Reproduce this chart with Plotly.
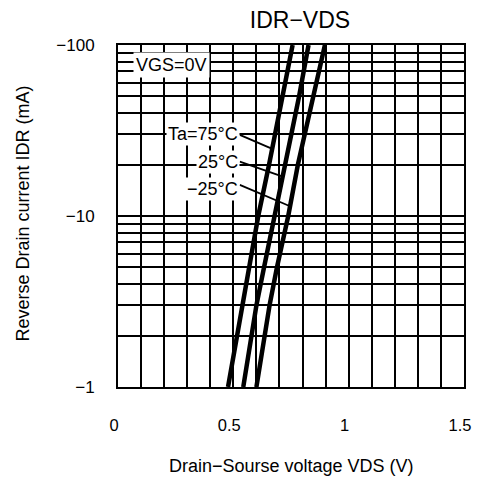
import numpy as np
import plotly.graph_objects as go

# Data
idr_mA = [1, 2, 3, 5, 10, 20, 50, 100]          # |IDR| in mA (plotted as negative labels)
vds_75 = [0.477, 0.515, 0.538, 0.566, 0.608, 0.655, 0.715, 0.757]
vds_25 = [0.543, 0.580, 0.600, 0.633, 0.680, 0.725, 0.785, 0.826]
vds_m25 = [0.600, 0.633, 0.657, 0.689, 0.738, 0.780, 0.845, 0.897]

series_names = ["Ta=75°C", "25°C", "−25°C"]
series_vds = [vds_75, vds_25, vds_m25]

# label leader lines: start (text end) and the current where each touches its curve
leader_start_v = [0.528, 0.528, 0.528]
leader_start_i = [29.8, 20.8, 15.2]
leader_end_i = [24.7, 17.0, 11.4]
label_text_i = [30.3, 20.8, 14.45]

x_tick_vals = [round(0.1 * k, 1) for k in range(16)]
x_tick_text = ["0" if v == 0 else ("0.5" if v == 0.5 else ("1" if v == 1.0 else ("1.5" if v == 1.5 else ""))) for v in x_tick_vals]
y_tick_vals = [m * 10 ** d for d in range(2) for m in range(1, 10)] + [100]
y_tick_text = ["−1" if v == 1 else ("−10" if v == 10 else ("−100" if v == 100 else "")) for v in y_tick_vals]

FONT = "Liberation Sans, Arial, sans-serif"

fig = go.Figure()
for vds in series_vds:
    fig.add_trace(go.Scatter(x=vds, y=idr_mA, mode="lines",
                             line=dict(color="black", width=4.5), showlegend=False,
                             hoverinfo="skip"))

# leader lines
for k, vds in enumerate(series_vds):
    end_v = float(np.interp(np.log10(leader_end_i[k]), np.log10(idr_mA), vds))
    fig.add_trace(go.Scatter(x=[leader_start_v[k], end_v], y=[leader_start_i[k], leader_end_i[k]],
                             mode="lines", line=dict(color="black", width=1.8),
                             showlegend=False, hoverinfo="skip"))

annotations = []
for k, name in enumerate(series_names):
    annotations.append(dict(x=leader_start_v[k], y=np.log10(label_text_i[k]), xref="x", yref="y",
                            text=name, showarrow=False, xanchor="right", yanchor="middle",
                            bgcolor="white", borderpad=1,
                            font=dict(family=FONT, size=18, color="black")))
annotations.append(dict(x=0.234, y=1.883, xref="x", yref="y", text="VGS=0V", showarrow=False,
                        xanchor="center", yanchor="middle", bgcolor="white", borderpad=2,
                        font=dict(family=FONT, size=18, color="black")))
annotations.append(dict(x=0.5, y=-0.231, xref="paper", yref="paper",
                        text="Drain−Sourse voltage VDS (V)", showarrow=False,
                        xanchor="center", yanchor="middle",
                        font=dict(family=FONT, size=18, color="black")))
annotations.append(dict(x=-0.275, y=0.507, xref="paper", yref="paper",
                        text="Reverse Drain current IDR (mA)", showarrow=False, textangle=-90,
                        xanchor="center", yanchor="middle",
                        font=dict(family=FONT, size=18, color="black")))

fig.update_layout(
    width=471, height=468,
    margin=dict(l=110, r=8, t=37, b=89),
    paper_bgcolor="white", plot_bgcolor="white",
    title=dict(text="IDR−VDS", x=292 / 471, xref="container", xanchor="center",
               y=1 - 12 / 468, yref="container", yanchor="middle",
               font=dict(family=FONT, size=23, color="black")),
    annotations=annotations,
    xaxis=dict(range=[0, 1.5], tickmode="array", tickvals=x_tick_vals, ticktext=x_tick_text,
               showgrid=True, gridcolor="black", gridwidth=1.5, zeroline=False,
               showline=True, mirror=True, linecolor="black", linewidth=2,
               ticks="", ticklabelstandoff=22, ticklabelshift=-4,
               tickfont=dict(family=FONT, size=16.5, color="black")),
    yaxis=dict(type="log", range=[0, 2], tickmode="array", tickvals=y_tick_vals, ticktext=y_tick_text,
               showgrid=True, gridcolor="black", gridwidth=1.5, zeroline=False,
               showline=True, mirror=True, linecolor="black", linewidth=2,
               ticks="", ticklabelstandoff=18,
               tickfont=dict(family=FONT, size=17, color="black")),
)

fig.write_html("out.html", config={"displayModeBar": False})
